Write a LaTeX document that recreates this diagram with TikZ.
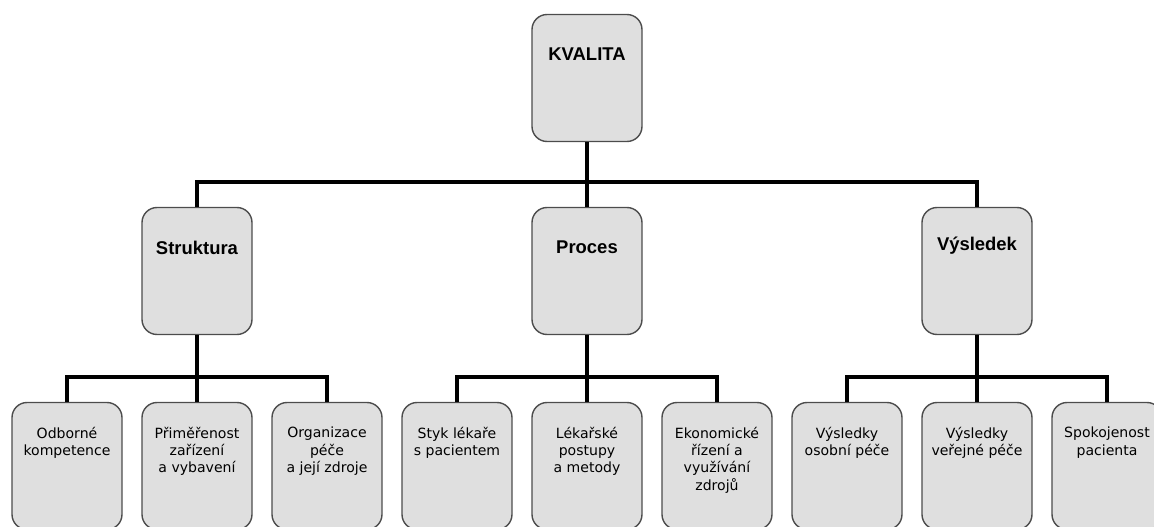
\documentclass[tikz,border=0pt]{standalone}
\usepackage{fontspec}
\setmainfont{Liberation Sans}
\newfontfamily\boxfont{DejaVu Sans}
\usetikzlibrary{positioning}

\tikzset{
  box/.style={draw=black!70, line width=0.8pt, fill=gray!25, rounded corners=0.3cm,
    minimum width=2.2cm, minimum height=2.54cm, inner sep=0pt},
  head/.style={font=\bfseries\fontsize{10.5}{11}\selectfont, inner sep=0pt},
  txt/.style={font=\boxfont\fontsize{8}{9.8}\selectfont, align=center, inner sep=0pt},
  conn/.style={line width=2.2pt, line join=miter}
}

\begin{document}
\begin{tikzpicture}[x=0.02cm, y=-0.02cm]
\useasboundingbox (0,0) rectangle (1154,527);
\clip (0,0) rectangle (1154,527);
% top
\node[box] (kval) at (587,78) {};
\node[head, below=0.68cm of kval.north] (kvalt) {KVALITA};
% middle row
\node[box] (struk) at (197,271) {};
\node[head, below=0.68cm of struk.north] (strukt) {Struktura};
\node[box] (proc) at (587,271) {};
\node[head, below=0.68cm of proc.north] (proct) {Proces};
\node[box] (vysl) at (977,271) {};
\node[head, below=0.6cm of vysl.north] (vyslt) {Výsledek};
% bottom row
\node[box] (odb) at (67,466) {};
\node[txt, below=0.5cm of odb.north] (odbt) {Odborné\\kompetence};
\node[box] (prim) at (197,466) {};
\node[txt, below=0.5cm of prim.north] (primt) {Přiměřenost\\zařízení\\a vybavení};
\node[box] (org) at (327,466) {};
\node[txt, below=0.5cm of org.north] (orgt) {Organizace\\péče\\a její zdroje};
\node[box] (styk) at (457,466) {};
\node[txt, below=0.5cm of styk.north] (stykt) {Styk lékaře\\s pacientem};
\node[box] (lek) at (587,466) {};
\node[txt, below=0.5cm of lek.north] (lekt) {Lékařské\\postupy\\a metody};
\node[box] (eko) at (717,466) {};
\node[txt, below=0.5cm of eko.north] (ekot) {Ekonomické\\řízení a\\využívání\\zdrojů};
\node[box] (osob) at (847,466) {};
\node[txt, below=0.5cm of osob.north] (osobt) {Výsledky\\osobní péče};
\node[box] (verej) at (977,466) {};
\node[txt, below=0.5cm of verej.north] (verejt) {Výsledky\\veřejné péče};
\node[box] (spok) at (1107,466) {};
\node[txt, below=0.5cm of spok.north] (spokt) {Spokojenost\\pacienta};
% connectors
\coordinate (bus) at (587,182);
\draw[conn] (kval.south) -- (bus);
\draw[conn] (struk.north) |- (bus) -| (vysl.north);
\draw[conn] (bus) -- (proc.north);
\coordinate (sbus) at (197,377);
\draw[conn] (struk.south) -- (sbus);
\draw[conn] (odb.north) |- (sbus) -| (org.north);
\draw[conn] (sbus) -- (prim.north);
\coordinate (pbus) at (587,377);
\draw[conn] (proc.south) -- (pbus);
\draw[conn] (styk.north) |- (pbus) -| (eko.north);
\draw[conn] (pbus) -- (lek.north);
\coordinate (vbus) at (977,377);
\draw[conn] (vysl.south) -- (vbus);
\draw[conn] (osob.north) |- (vbus) -| (spok.north);
\draw[conn] (vbus) -- (verej.north);
\end{tikzpicture}
\end{document}
